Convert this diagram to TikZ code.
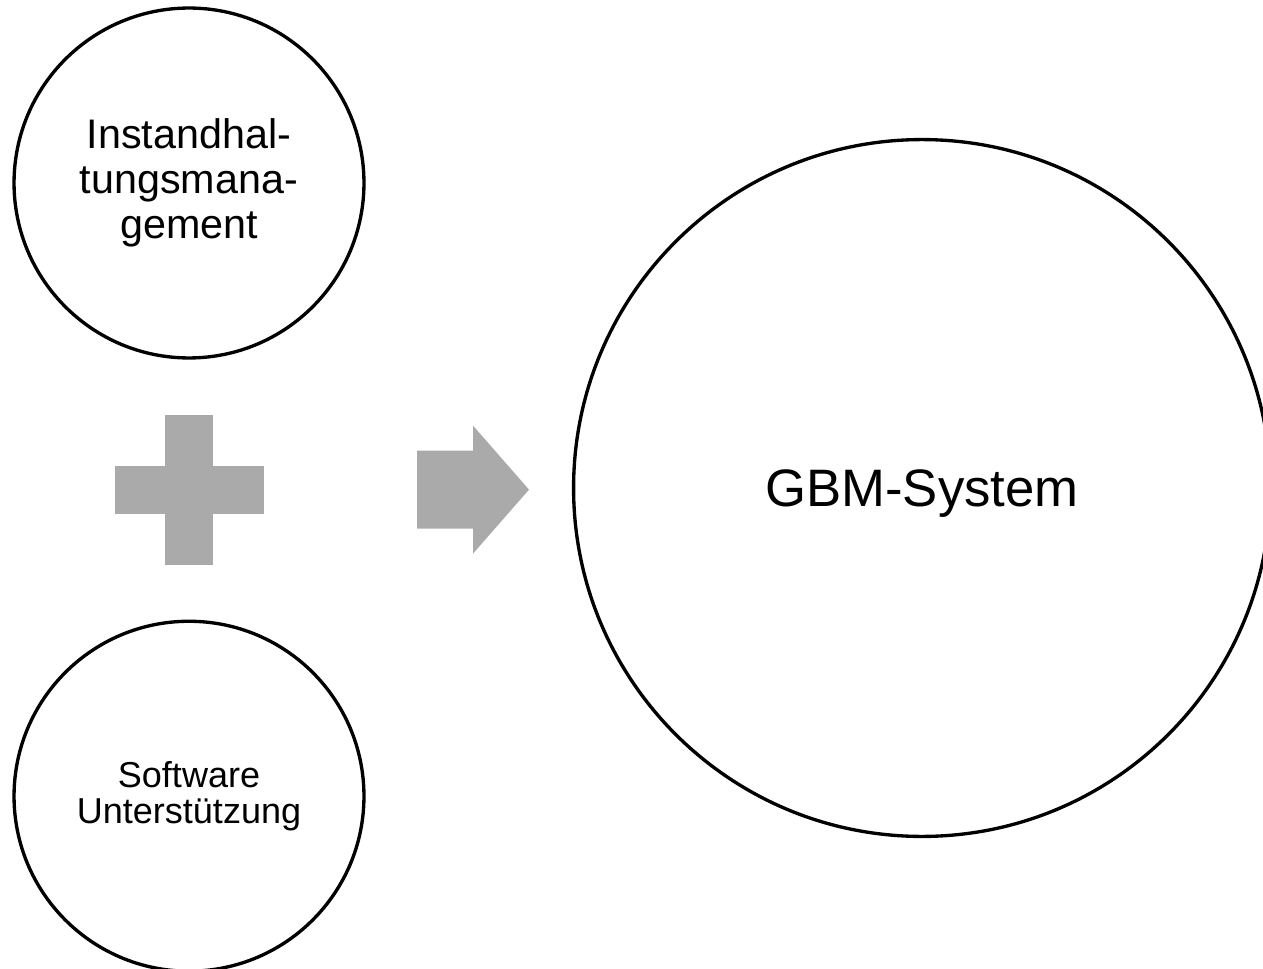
\documentclass[tikz,border=0pt]{standalone}
\usepackage{fontspec}
\setmainfont{Liberation Sans}
\usetikzlibrary{positioning}
\usetikzlibrary{calc}
\definecolor{signgrey}{HTML}{AAAAAA}
\tikzstyle{idea} = [draw, circle, line width=1.9pt, align=center,
minimum size=7cm, inner sep=0pt]
\tikzstyle{sign} = [fill=signgrey, draw=none]

\begin{document}
\begin{tikzpicture}[x=0.02cm, y=-0.02cm]
    \useasboundingbox (0,0) rectangle (1263,969);
    \node [idea, font=\fontsize{23.5}{25.5}\selectfont] (IM) at (189,183) {Instandhal-\\tungsmana-\\gement};
    \node [idea, below=5.2cm of IM, font=\fontsize{20.5}{21}\selectfont] (SU) {Software\\Unterstützung};
    \node [idea, minimum size=13.94cm, text depth=0pt, font=\fontsize{30}{32}\selectfont] (GBM) at (922,488) {GBM-System};
    %% Plus and arrow
    \coordinate (P) at ($(IM)!0.5!(SU)$);
    \coordinate (A) at ($(P)+(228,0)$);
    \fill [sign] ($(P)+(-24,-75)$) rectangle ($(P)+(24,75)$);
    \fill [sign] ($(P)+(-74.5,-24)$) rectangle ($(P)+(74.5,24)$);
    \fill [sign] (A) ++(0,-39) -- ++(56,0) -- ++(0,-25) -- ++(56,64)
        -- ++(-56,64) -- ++(0,-25) -- ++(-56,0) -- cycle;
\end{tikzpicture}
\end{document}
